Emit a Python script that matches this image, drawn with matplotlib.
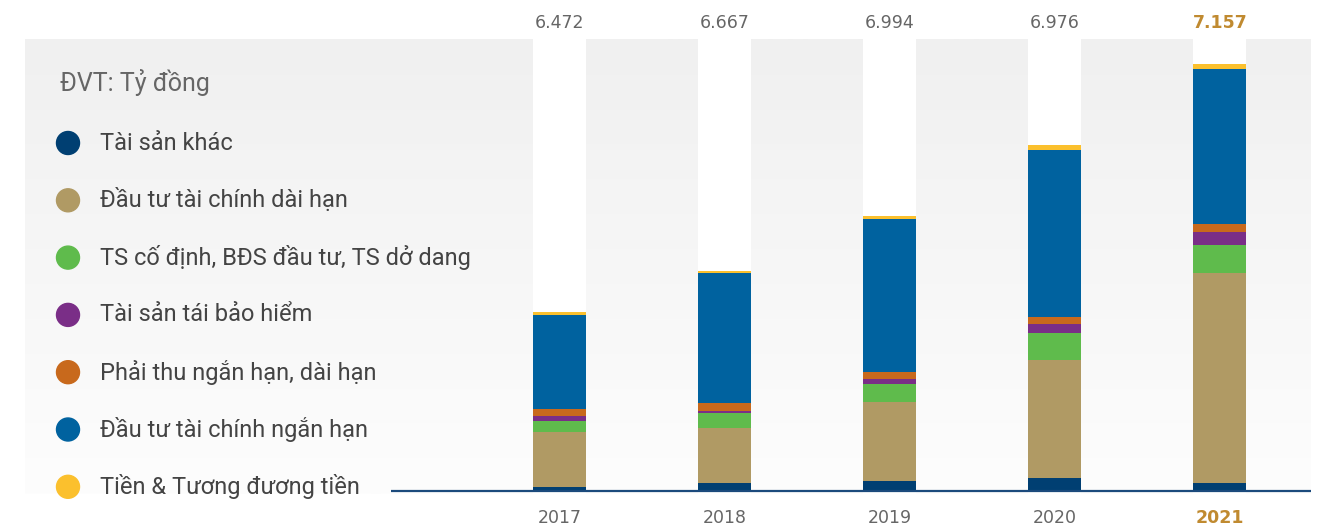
import numpy as np
import matplotlib
matplotlib.use("Agg")
import matplotlib.pyplot as plt
from matplotlib.colors import LinearSegmentedColormap

years = ["2017", "2018", "2019", "2020", "2021"]
totals = ["6.472", "6.667", "6.994", "6.976", "7.157"]

series_names = [
    "Tài sản khác",
    "Đầu tư tài chính dài hạn",
    "TS cố định, BĐS đầu tư, TS dở dang",
    "Tài sản tái bảo hiểm",
    "Phải thu ngắn hạn, dài hạn",
    "Đầu tư tài chính ngắn hạn",
    "Tiền & Tương đương tiền",
]
tai_san_khac = [4.3, 8.0, 10.0, 13.0, 8.0]
dau_tu_dai_han = [55.0, 55.0, 79.3, 118.0, 210.0]
ts_co_dinh = [10.7, 14.7, 17.7, 26.7, 27.7]
tai_bao_hiem = [5.0, 2.0, 5.0, 9.0, 13.0]
phai_thu = [7.3, 8.0, 7.0, 7.3, 8.3]
dau_tu_ngan_han = [93.7, 130.3, 153.0, 166.7, 154.7]
tien = [3.0, 1.7, 3.0, 5.0, 5.0]

series = [tai_san_khac, dau_tu_dai_han, ts_co_dinh, tai_bao_hiem,
          phai_thu, dau_tu_ngan_han, tien]
colors = ["#003f72", "#b09a64", "#5fbb4c", "#7a2e87", "#c8691c", "#00629f", "#fbc02d"]

W, H = 1322, 529
fig = plt.figure(figsize=(W / 100, H / 100), dpi=100)
fig.patch.set_facecolor("white")

px_l, px_r, px_t, px_b = 25, 1311, 39, 494
ax = fig.add_axes([px_l / W, 1 - px_b / H, (px_r - px_l) / W, (px_b - px_t) / H])
ymin, ymax = -(px_b - 491), 491 - px_t
spacing = 165.1
c0 = 559.5 - px_l
xlo = -c0 / spacing
xhi = (px_r - px_l - c0) / spacing
ax.set_xlim(xlo, xhi)
ax.set_ylim(ymin, ymax)
ax.axis("off")

grad = np.linspace(0, 1, 256).reshape(-1, 1)
cmap = LinearSegmentedColormap.from_list("g", ["#f0f0f0", "#fdfdfd"])
ax.imshow(grad, aspect="auto", cmap=cmap, extent=[xlo, xhi, ymin, ymax],
          origin="upper", zorder=0)

x = np.arange(len(years))
bw = 53 / spacing
ax.bar(x, ymax - ymin, bottom=ymin, width=bw, color="white", zorder=1)

bottom = np.zeros(len(years))
for vals, col in zip(series, colors):
    ax.bar(x, vals, bottom=bottom, width=bw, color=col, zorder=2, linewidth=0)
    bottom += np.array(vals)

base_start = (391 - px_l - c0) / spacing
ax.plot([base_start, xhi], [0, 0], color="#1b4a7c", lw=1.6, zorder=3,
        solid_capstyle="butt")

narrow = ["Liberation Sans Narrow", "DejaVu Sans"]
gold = "#c08a30"
for i, (yr, tot) in enumerate(zip(years, totals)):
    xf = (px_l + c0 + i * spacing) / W
    last = i == len(years) - 1
    fig.text(xf, 1 - 22.5 / H, tot, ha="center", va="center", family=narrow,
             fontsize=12.5, color=gold if last else "#666666",
             fontweight="bold" if last else "normal")
    fig.text(xf, 1 - 518 / H, yr, ha="center", va="center", family=narrow,
             fontsize=12.5, color=gold if last else "#666666",
             fontweight="bold" if last else "normal")

roboto = ["Roboto", "DejaVu Sans"]
fig.text(60 / W, 1 - 83 / H, "ĐVT: Tỷ đồng", ha="left", va="center",
         family=roboto, fontsize=18, color="#666666")

leg_y0, leg_dy = 143, 57.3
for k, (name, col) in enumerate(zip(series_names, colors)):
    yy = 1 - (leg_y0 + k * leg_dy) / H
    fig.patches.append(matplotlib.patches.Ellipse((68 / W, yy), 23 / W, 23 / H,
                                                  transform=fig.transFigure,
                                                  color=col, zorder=5))
    fig.text(100 / W, yy, name, ha="left", va="center", family=roboto,
             fontsize=17, color="#444444")

fig.savefig("out.png", dpi=100, facecolor="white")
